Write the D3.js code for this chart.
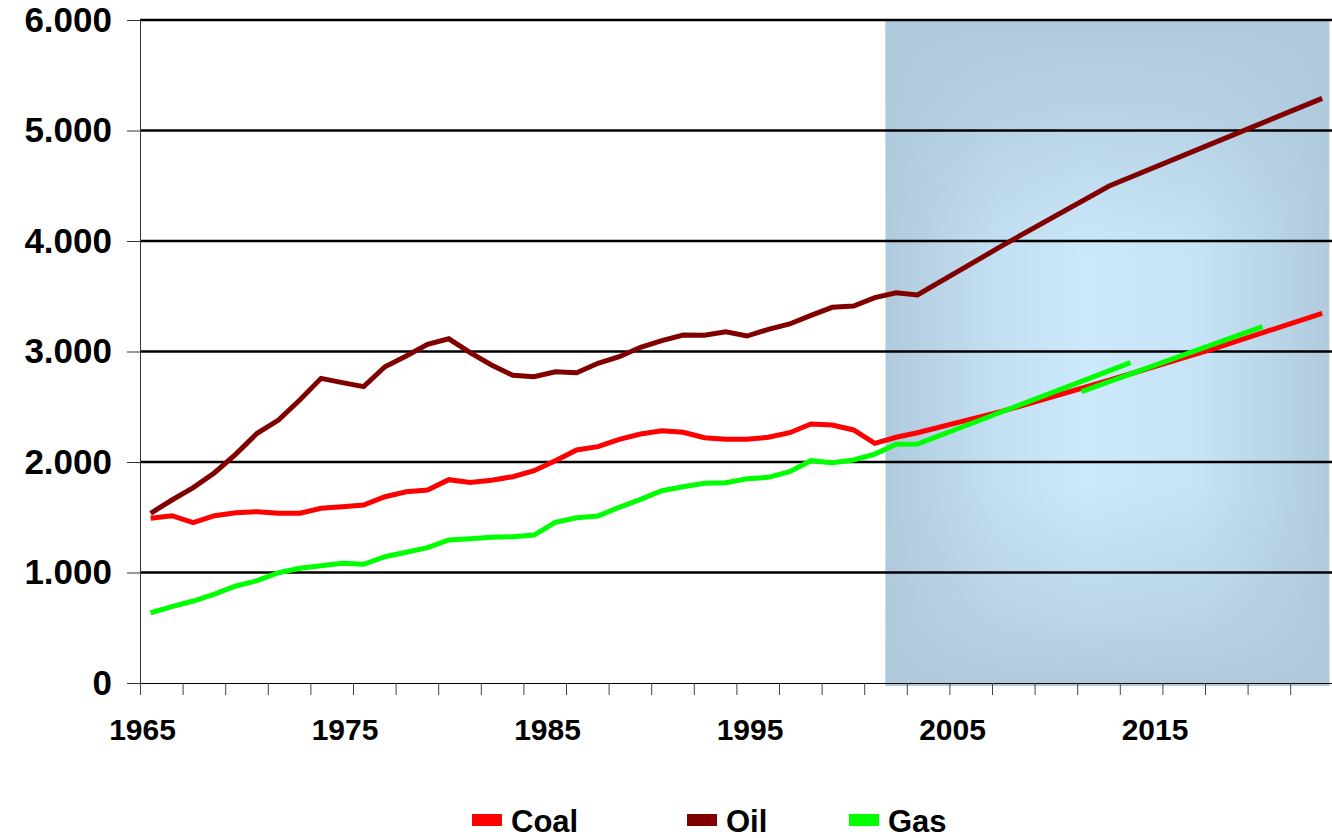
<!doctype html>
<html>
  <head>
    <meta charset="utf-8">
    <title>Coal, Oil, Gas</title>
    <script src="https://cdnjs.cloudflare.com/ajax/libs/d3/7.8.5/d3.min.js"></script>
    <style>
      body { margin: 0; background: #fff; }
      svg { display: block; font-family: "Liberation Sans", Arial, sans-serif; font-weight: bold; }
    </style>
  </head>
  <body>
    <div id="chart"></div>
    <script>
      // historical values, 1965 - 2001
      const years = [1965, 1966, 1967, 1968, 1969, 1970, 1971, 1972, 1973, 1974,
                     1975, 1976, 1977, 1978, 1979, 1980, 1981, 1982, 1983, 1984,
                     1985, 1986, 1987, 1988, 1989, 1990, 1991, 1992, 1993, 1994,
                     1995, 1996, 1997, 1998, 1999, 2000, 2001];
      const coal = [1490, 1514, 1451, 1514, 1541, 1550, 1536, 1536, 1581, 1596,
                    1611, 1686, 1731, 1747, 1840, 1815, 1835, 1867, 1921, 2012,
                    2109, 2139, 2205, 2253, 2283, 2269, 2220, 2205, 2205, 2224,
                    2265, 2344, 2335, 2290, 2169, 2224, 2265];
      const oil = [1536, 1656, 1768, 1903, 2072, 2260, 2380, 2561, 2757, 2718,
                   2682, 2862, 2959, 3065, 3115, 2990, 2878, 2785, 2772, 2817,
                   2808, 2893, 2953, 3038, 3098, 3149, 3147, 3179, 3140, 3201,
                   3249, 3327, 3400, 3412, 3487, 3532, 3511];
      const gas = [636, 691, 742, 805, 878, 926, 998, 1038, 1062, 1083,
                   1074, 1143, 1183, 1225, 1294, 1306, 1319, 1324, 1339, 1454,
                   1496, 1511, 1590, 1662, 1740, 1776, 1807, 1813, 1849, 1861,
                   1912, 2012, 1994, 2018, 2072, 2160, 2163];

      // projections (shaded part)
      const projYears = [2001, 2005, 2010, 2015, 2020];
      const coalProj = [2265, 2460, 2740, 3030, 3346];
      const oilProj = [3511, 3960, 4498, 4895, 5291];
      const gasProjYears = [2001, 2006, 2011];
      const gasProj = [2163, 2531, 2899];
      const gasProj2Years = [2008.7, 2017.2];
      const gasProj2 = [2636, 3225];

      const yTicks = [0, 1000, 2000, 3000, 4000, 5000, 6000];
      const xLabels = ["1965", "1975", "1985", "1995", "2005", "2015"];

      const W = 1332, H = 838;
      const colors = { Coal: "#ff0000", Oil: "#800000", Gas: "#00ff00" };

      const svg = d3.select("#chart").append("svg")
        .attr("width", W)
        .attr("height", H);

      const x = d3.scaleLinear().domain([1964.5, 2020.5]).range([140, 1332.8]);
      const y = d3.scaleLinear().domain([0, 6000]).range([683, 20]);
      const xLab = d3.scalePoint().domain(xLabels).range([142.5, 1155]);

      // shaded forecast area: light centre, darker towards the edges
      const defs = svg.append("defs");
      const gh = defs.append("linearGradient").attr("id", "shadeH")
        .attr("x1", 0).attr("x2", 1).attr("y1", 0).attr("y2", 0);
      [[0, "#afcadc"], [0.25, "#c3e0f2"], [0.45, "#cbe9fb"], [0.7, "#c6e4f6"], [0.88, "#b9d5e8"], [1, "#afcadc"]]
        .forEach(s => gh.append("stop").attr("offset", s[0]).attr("stop-color", s[1]));
      const gv = defs.append("linearGradient").attr("id", "shadeV")
        .attr("x1", 0).attr("x2", 0).attr("y1", 0).attr("y2", 1);
      [[0, 1], [0.12, 0.75], [0.35, 0], [0.7, 0], [0.9, 0.6], [1, 1]]
        .forEach(s => gv.append("stop").attr("offset", s[0])
          .attr("stop-color", "#afcadc").attr("stop-opacity", s[1]));

      const shadeX = x(1999.5), shadeY = y(6000) + 1;
      const shadeW = x(2020.5) - 3.5 - shadeX, shadeH = 686 - shadeY;
      ["shadeH", "shadeV"].forEach(id => {
        svg.append("rect")
          .attr("x", shadeX).attr("y", shadeY)
          .attr("width", shadeW).attr("height", shadeH)
          .attr("fill", `url(#${id})`);
      });

      // gridlines
      svg.append("g")
        .selectAll("line")
        .data(yTicks.filter(d => d > 0))
        .join("line")
        .attr("x1", 140).attr("x2", W)
        .attr("y1", d => y(d)).attr("y2", d => y(d))
        .attr("stroke", "#000")
        .attr("stroke-width", 2.7);

      // y axis
      const de = d3.formatLocale({ decimal: ",", thousands: ".", grouping: [3], currency: ["", ""] });
      const yAxis = svg.append("g")
        .attr("transform", "translate(140,0)")
        .call(d3.axisLeft(y).tickValues(yTicks).tickSize(13).tickSizeOuter(0)
          .tickPadding(15).tickFormat(de.format(",")));
      yAxis.select(".domain").attr("stroke", "#333");
      yAxis.selectAll(".tick line").attr("stroke", "#333");
      yAxis.selectAll("text")
        .attr("fill", "#000")
        .style("font-size", "35px")
        .style("font-family", "'Liberation Sans', Arial, sans-serif")
        .style("font-weight", "bold");

      // x axis: ticks every two years between categories
      const xAxis = svg.append("g")
        .attr("transform", `translate(0,${y(0)})`)
        .call(d3.axisBottom(x).tickValues(d3.range(1964.5, 2019, 2)).tickSize(12)
          .tickSizeOuter(0).tickFormat(""));
      xAxis.select(".domain").attr("stroke", "#000");
      xAxis.selectAll(".tick line").attr("stroke", "#444");

      svg.append("g")
        .selectAll("text")
        .data(xLabels)
        .join("text")
        .attr("x", d => xLab(d))
        .attr("y", 740)
        .attr("text-anchor", "middle")
        .style("font-size", "30px")
        .text(d => d);

      // lines
      const line = d3.line().x(d => x(d[0])).y(d => y(d[1]));
      const series = [
        { name: "Coal", pts: d3.zip(years, coal).concat(d3.zip(projYears, coalProj).slice(1)) },
        { name: "Oil", pts: d3.zip(years, oil).concat(d3.zip(projYears, oilProj).slice(1)) },
        { name: "Gas", pts: d3.zip(years, gas).concat(d3.zip(gasProjYears, gasProj).slice(1)) },
        { name: "Gas", pts: d3.zip(gasProj2Years, gasProj2) }
      ];

      svg.append("g")
        .selectAll("path")
        .data(series)
        .join("path")
        .attr("d", d => line(d.pts))
        .attr("fill", "none")
        .attr("stroke", d => colors[d.name])
        .attr("stroke-width", 5);

      // legend
      const legendNames = ["Coal", "Oil", "Gas"];
      const legendX = [472, 687, 849];
      const lg = svg.append("g")
        .selectAll("g")
        .data(legendNames)
        .join("g")
        .attr("transform", (d, i) => `translate(${legendX[i]},814)`);
      lg.append("rect")
        .attr("width", 30).attr("height", 12)
        .attr("fill", d => colors[d]);
      lg.append("text")
        .attr("x", 39).attr("y", 18)
        .style("font-size", "31px")
        .text(d => d);
    </script>
  </body>
</html>
